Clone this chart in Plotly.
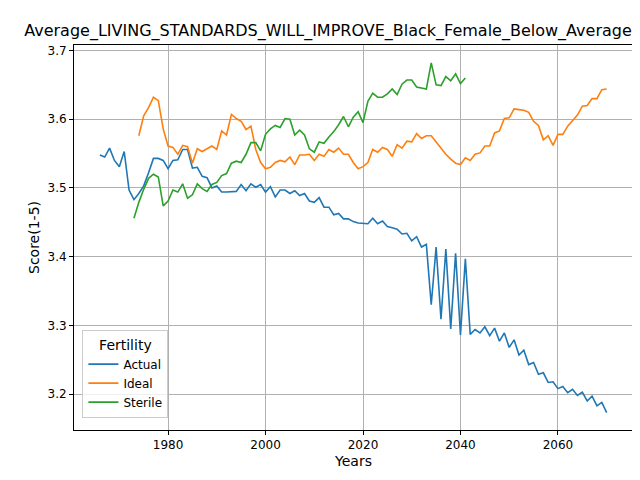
import plotly.graph_objects as go

# Actual 1966-2070, Ideal 1974-2070, Sterile 1973-2041
actual_years = list(range(1966, 2071))
actual = [3.548, 3.545, 3.558, 3.540, 3.531, 3.553, 3.497, 3.483, 3.492, 3.503,
          3.522, 3.543, 3.543, 3.540, 3.528, 3.540, 3.541, 3.556, 3.556, 3.529,
          3.530, 3.517, 3.515, 3.500, 3.503, 3.494, 3.494, 3.495, 3.495, 3.505,
          3.496, 3.506, 3.501, 3.505, 3.494, 3.502, 3.487, 3.497, 3.497, 3.492,
          3.496, 3.489, 3.492, 3.481, 3.479, 3.486, 3.472, 3.472, 3.461, 3.463,
          3.455, 3.455, 3.451, 3.449, 3.448, 3.448, 3.456, 3.448, 3.452, 3.444,
          3.442, 3.440, 3.433, 3.434, 3.423, 3.429, 3.414, 3.418, 3.330, 3.414,
          3.309, 3.411, 3.295, 3.405, 3.286, 3.397, 3.287, 3.294, 3.289, 3.298,
          3.285, 3.296, 3.277, 3.289, 3.268, 3.279, 3.257, 3.264, 3.243, 3.246,
          3.229, 3.231, 3.217, 3.218, 3.208, 3.211, 3.202, 3.207, 3.198, 3.203,
          3.190, 3.197, 3.183, 3.188, 3.173]

ideal_years = list(range(1974, 2071))
ideal = [3.576, 3.605, 3.617, 3.632, 3.627, 3.586, 3.561, 3.559, 3.549, 3.562,
         3.560, 3.536, 3.557, 3.553, 3.557, 3.561, 3.556, 3.583, 3.577, 3.607,
         3.601, 3.597, 3.585, 3.590, 3.556, 3.537, 3.528, 3.530, 3.537, 3.540,
         3.538, 3.545, 3.534, 3.548, 3.548, 3.549, 3.540, 3.549, 3.546, 3.556,
         3.552, 3.558, 3.549, 3.549, 3.537, 3.528, 3.531, 3.537, 3.556, 3.552,
         3.559, 3.556, 3.546, 3.563, 3.558, 3.568, 3.567, 3.579, 3.572, 3.576,
         3.576, 3.567, 3.558, 3.549, 3.542, 3.536, 3.534, 3.544, 3.540, 3.549,
         3.551, 3.561, 3.561, 3.580, 3.583, 3.601, 3.602, 3.615, 3.614, 3.613,
         3.610, 3.597, 3.591, 3.570, 3.576, 3.562, 3.578, 3.578, 3.590, 3.598,
         3.606, 3.619, 3.620, 3.630, 3.630, 3.643, 3.644]

sterile_years = list(range(1973, 2042))
sterile = [3.456, 3.479, 3.498, 3.514, 3.520, 3.516, 3.474, 3.481, 3.497, 3.494,
           3.506, 3.485, 3.490, 3.506, 3.499, 3.495, 3.505, 3.508, 3.518, 3.521,
           3.536, 3.539, 3.537, 3.549, 3.566, 3.566, 3.554, 3.578, 3.586, 3.591,
           3.588, 3.601, 3.600, 3.577, 3.584, 3.577, 3.557, 3.552, 3.567, 3.565,
           3.574, 3.582, 3.592, 3.604, 3.589, 3.603, 3.611, 3.595, 3.626, 3.638,
           3.632, 3.632, 3.637, 3.644, 3.636, 3.651, 3.657, 3.657, 3.647, 3.646,
           3.644, 3.682, 3.650, 3.649, 3.662, 3.656, 3.666, 3.652, 3.660]

fig = go.Figure()
fig.add_trace(go.Scatter(x=actual_years, y=actual, mode='lines', name='Actual',
                         line=dict(color='#1f77b4', width=1.6)))
fig.add_trace(go.Scatter(x=ideal_years, y=ideal, mode='lines', name='Ideal',
                         line=dict(color='#ff7f0e', width=1.6)))
fig.add_trace(go.Scatter(x=sterile_years, y=sterile, mode='lines', name='Sterile',
                         line=dict(color='#2ca02c', width=1.6)))

axis_style = dict(showgrid=True, gridcolor='#b0b0b0', gridwidth=1,
                  showline=True, linecolor='black', mirror=True, automargin=False,
                  ticks='outside', ticklen=4, tickcolor='black', zeroline=False,
                  tickfont=dict(size=12))

fig.update_layout(
    width=640, height=480,
    paper_bgcolor='white', plot_bgcolor='white',
    font=dict(family='DejaVu Sans', size=12, color='black'),
    title=dict(text='Average_LIVING_STANDARDS_WILL_IMPROVE_Black_Female_Below_Average',
               x=0.5, xanchor='center', y=0.965, font=dict(size=16)),
    margin=dict(l=66, r=15, t=37, b=58),
    xaxis=dict(range=[1960.7, 2075.4], tickvals=[1980, 2000, 2020, 2040, 2060],
               title=dict(text='Years', standoff=4), **axis_style),
    yaxis=dict(range=[3.1478, 3.708], tickvals=[3.2, 3.3, 3.4, 3.5, 3.6, 3.7],
               tickformat='.1f', title=dict(text='Score(1-5)', standoff=4), **axis_style),
    legend=dict(title=dict(text='Fertility', side='top center'), x=0.015, y=0.03,
                xanchor='left', yanchor='bottom', bordercolor='#cccccc', borderwidth=1,
                bgcolor='rgba(255,255,255,0.8)'),
    showlegend=True,
)

fig.write_html("out.html")
